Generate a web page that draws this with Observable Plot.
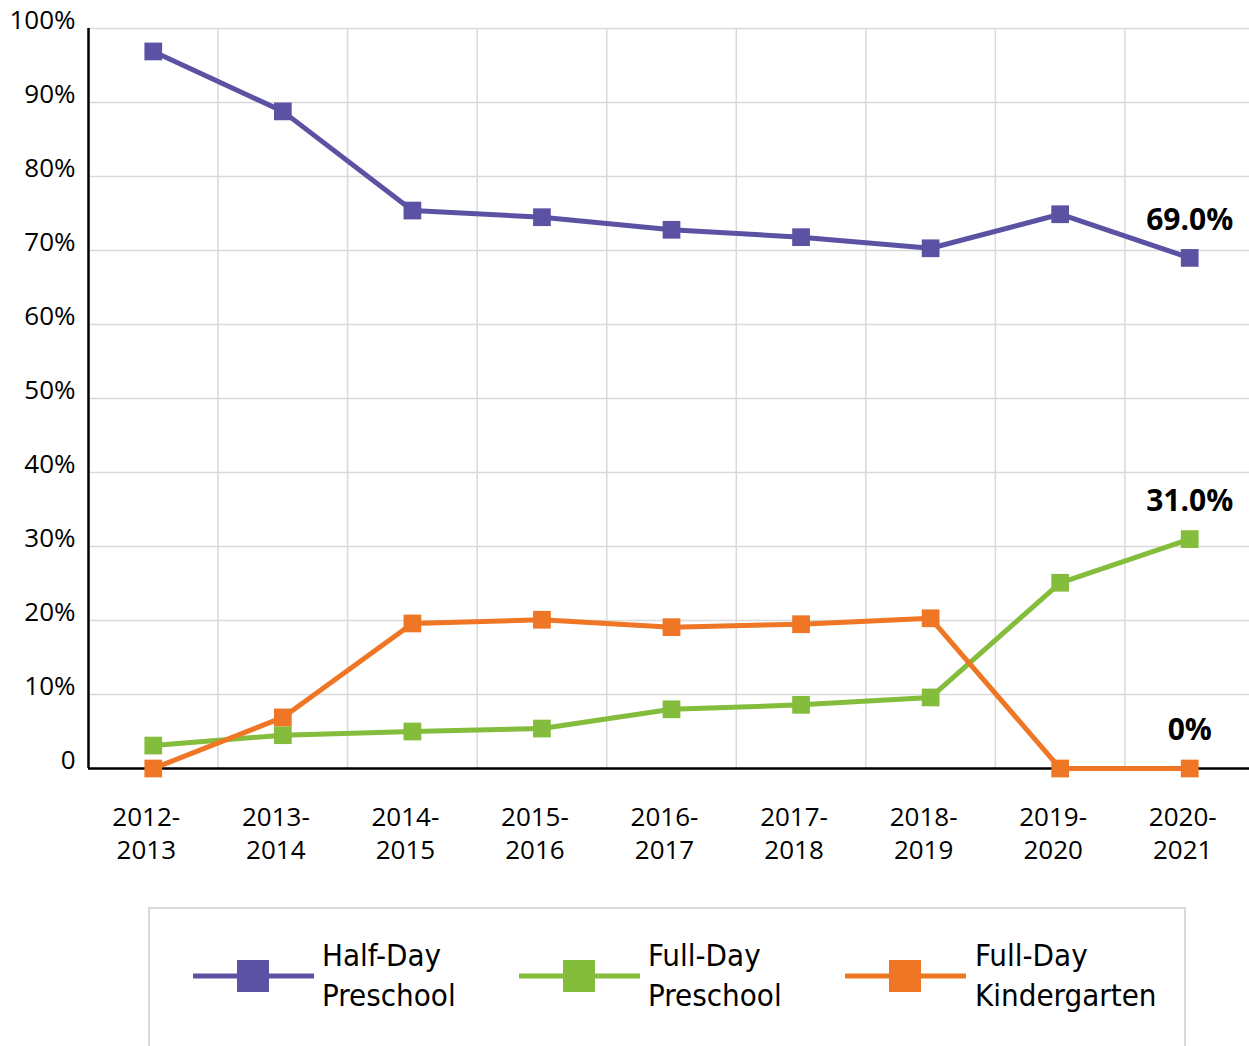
<!DOCTYPE html>
<html><head><meta charset="utf-8">
<script src="https://cdn.jsdelivr.net/npm/d3@7"></script>
<script src="https://cdn.jsdelivr.net/npm/@observablehq/plot@0.6"></script>
<style>
html,body{margin:0;padding:0;background:#fff;overflow:hidden;}
#wrap{position:relative;width:1249px;height:1046px;overflow:hidden;}
#chart svg{max-width:none !important;}
#legend{position:absolute;left:148px;top:907px;width:1038px;height:170px;border:2px solid #d9d9d9;box-sizing:border-box;}
.sw{position:absolute;top:50px;}
.lt{position:absolute;top:26px;font-family:"Liberation Sans Narrow","DejaVu Sans Condensed",sans-serif;font-size:31px;line-height:40px;color:#000;white-space:nowrap;}
</style>
</head><body>
<div id="wrap"><div id="chart"></div><div id="legend"></div></div>
<script>
const years = ["2012-2013","2013-2014","2014-2015","2015-2016","2016-2017","2017-2018","2018-2019","2019-2020","2020-2021"];
const halfDayPreschool = [96.9, 88.8, 75.4, 74.5, 72.8, 71.8, 70.3, 74.9, 69.0];
const fullDayPreschool = [3.1, 4.5, 5.0, 5.4, 8.0, 8.6, 9.6, 25.1, 31.0];
const fullDayKindergarten = [0, 6.9, 19.6, 20.1, 19.1, 19.5, 20.3, 0, 0];
const seriesNames = ["Half-Day Preschool", "Full-Day Preschool", "Full-Day Kindergarten"];
const legendLines = [["Half-Day","Preschool"],["Full-Day","Preschool"],["Full-Day","Kindergarten"]];
const colors = ["#5B52A3", "#84BC3C", "#EE7624"];
const yTicks = [0,10,20,30,40,50,60,70,80,90,100];
const endLabels = ["69.0%", "31.0%", "0%"];

const seriesValues = [halfDayPreschool, fullDayPreschool, fullDayKindergarten];
const rows = [];
seriesValues.forEach((vals, s) => vals.forEach((v, i) => rows.push({i, value: v, series: seriesNames[s]})));
const last = years.length - 1;
const endRows = seriesValues.map((vals, s) => ({i: last, value: vals[last], label: endLabels[s]}));

const chart = Plot.plot({
  width: 1254,
  height: 907,
  marginLeft: 88,
  marginRight: 0,
  marginTop: 28,
  marginBottom: 139,
  style: {fontFamily: "'Open Sans', sans-serif", color: "#000", background: "#fff", maxWidth: "none"},
  x: {type: "linear", domain: [-0.5, years.length - 0.5], label: null},
  y: {domain: [0, 100], label: null},
  color: {domain: seriesNames, range: colors},
  marks: [
    Plot.gridY(yTicks, {stroke: "#d9d9d9", strokeOpacity: 1, strokeWidth: 1.5}),
    Plot.ruleX(d3.range(1, years.length).map(i => i - 0.5), {stroke: "#d9d9d9", strokeWidth: 1.5}),
    Plot.axisY(yTicks, {tickSize: 0, tickPadding: 13, fontSize: 26, dy: -8, label: null,
      tickFormat: d => d === 0 ? "0" : d + "%"}),
    Plot.axisX(d3.range(years.length), {tickSize: 0, tickPadding: 33, fontSize: 26, lineHeight: 1.3, dx: -7, label: null,
      tickFormat: i => years[i].replace("-", "-\n")}),
    Plot.ruleX([-0.5], {stroke: "#000", strokeWidth: 2.5}),
    Plot.ruleY([0], {stroke: "#000", strokeWidth: 2.5}),
    Plot.line(rows, {x: "i", y: "value", stroke: "series", strokeWidth: 5}),
    Plot.dot(rows, {x: "i", y: "value", fill: "series", symbol: "square", r: 10}),
    Plot.text(endRows, {x: "i", y: "value", text: "label", dy: -38, fontSize: 30, fontWeight: "bold", fill: "#000"})
  ]
});
document.getElementById("chart").appendChild(chart);

const legend = document.getElementById("legend");
const swLeft = [43, 369, 695];
const txLeft = [172, 498, 825];
seriesNames.forEach((name, s) => {
  const ns = "http://www.w3.org/2000/svg";
  const svg = document.createElementNS(ns, "svg");
  svg.setAttribute("width", 121); svg.setAttribute("height", 34);
  svg.setAttribute("class", "sw");
  svg.style.left = swLeft[s] + "px";
  const ln = document.createElementNS(ns, "line");
  ln.setAttribute("x1", 0); ln.setAttribute("x2", 121); ln.setAttribute("y1", 17); ln.setAttribute("y2", 17);
  ln.setAttribute("stroke", colors[s]); ln.setAttribute("stroke-width", 5);
  const rc = document.createElementNS(ns, "rect");
  rc.setAttribute("x", 44); rc.setAttribute("y", 1); rc.setAttribute("width", 32); rc.setAttribute("height", 32);
  rc.setAttribute("fill", colors[s]);
  svg.appendChild(ln); svg.appendChild(rc);
  legend.appendChild(svg);
  const t = document.createElement("div");
  t.className = "lt";
  t.style.left = txLeft[s] + "px";
  t.innerHTML = legendLines[s].join("<br>");
  legend.appendChild(t);
});
</script>
</body></html>
